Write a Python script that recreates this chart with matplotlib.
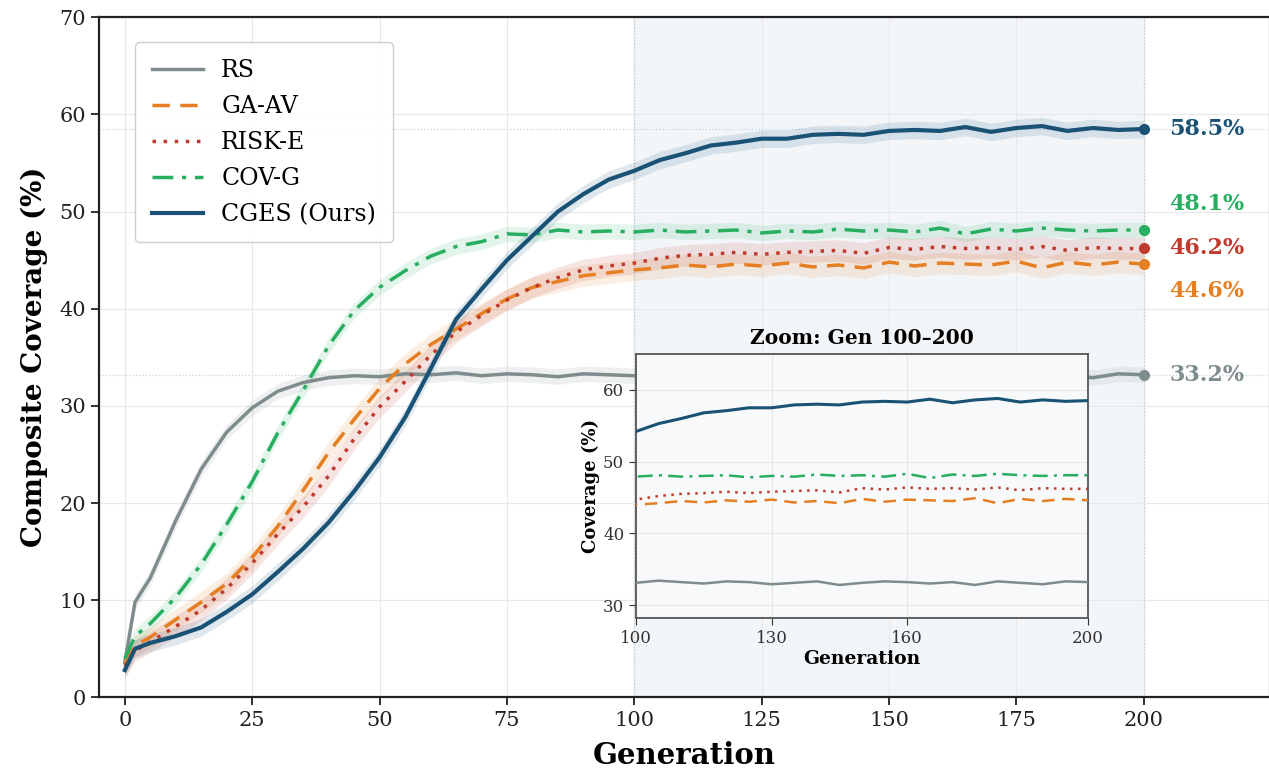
import numpy as np
import matplotlib
matplotlib.use("Agg")
import matplotlib.pyplot as plt

# Fuente serif para todo
plt.rcParams['font.family'] = ['DejaVu Serif']

# Datos (cobertura media por generacion)
generaciones = [0, 2, 5, 10, 15, 20, 25, 30, 35, 40, 45, 50, 55, 60, 65, 70, 75, 80, 85, 90, 95,
                100, 105, 110, 115, 120, 125, 130, 135, 140, 145, 150, 155, 160, 165, 170, 175,
                180, 185, 190, 195, 200]

metodos = ['RS', 'GA-AV', 'RISK-E', 'COV-G', 'CGES (Ours)']

rs = [3.6, 9.8, 12.3, 18.2, 23.5, 27.3, 29.8, 31.5, 32.4, 32.9, 33.1, 33.0, 33.3, 33.2, 33.4, 33.1,
      33.3, 33.2, 33.0, 33.3, 33.2, 33.1, 33.4, 33.2, 33.0, 33.3, 33.2, 32.9, 33.1, 33.3, 32.8,
      33.1, 33.3, 33.2, 33.0, 33.2, 32.8, 33.3, 33.1, 32.9, 33.3, 33.2]
ga_av = [3.5, 5.3, 6.2, 8.0, 9.8, 11.7, 14.4, 17.6, 21.3, 25.2, 28.6, 31.8, 34.3, 36.3, 37.9, 39.5,
         41.0, 42.2, 42.8, 43.4, 43.7, 44.0, 44.2, 44.5, 44.3, 44.6, 44.4, 44.7, 44.3, 44.5, 44.2,
         44.8, 44.4, 44.7, 44.6, 44.5, 44.9, 44.2, 44.8, 44.5, 44.8, 44.6]
risk_e = [3.2, 4.8, 5.7, 7.3, 9.0, 11.2, 13.8, 16.8, 19.6, 22.8, 26.6, 29.9, 32.5, 35.2, 37.6, 39.3,
          40.9, 42.2, 43.2, 44.0, 44.4, 44.7, 45.2, 45.5, 45.6, 45.8, 45.6, 45.8, 45.9, 46.0, 45.7,
          46.3, 46.1, 46.4, 46.2, 46.3, 46.1, 46.4, 46.0, 46.3, 46.2, 46.2]
cov_g = [4.0, 6.3, 7.6, 10.3, 13.7, 17.8, 22.2, 27.2, 31.6, 36.2, 39.8, 42.2, 43.9, 45.4, 46.4, 46.9,
         47.7, 47.6, 48.1, 47.9, 48.0, 47.9, 48.1, 47.9, 48.0, 48.1, 47.8, 48.0, 47.9, 48.2, 48.0,
         48.1, 47.9, 48.3, 47.7, 48.2, 48.0, 48.3, 48.1, 48.0, 48.1, 48.1]
cges = [2.8, 5.0, 5.6, 6.3, 7.2, 8.8, 10.6, 12.9, 15.3, 18.0, 21.2, 24.7, 28.8, 33.8, 38.9, 42.0,
        45.0, 47.5, 50.0, 51.8, 53.3, 54.2, 55.3, 56.0, 56.8, 57.1, 57.5, 57.5, 57.9, 58.0, 57.9,
        58.3, 58.4, 58.3, 58.7, 58.2, 58.6, 58.8, 58.3, 58.6, 58.4, 58.5]

# Desviacion estandar aproximada (ancho de la banda)
desviaciones = [0.8, 1.1, 1.1, 0.8, 0.9]

# Valor final que se muestra a la derecha
finales = [33.2, 44.6, 46.2, 48.1, 58.5]

colores = ['#7f8c8d', '#e67e22', '#c0392b', '#27ae60', '#1a5276']
estilos = ['-', (0, (5, 3)), (0, (1, 2.2)), (0, (6, 2.5, 1.2, 2.5)), '-']
grosores = [2.5, 2.5, 2.5, 2.5, 3.0]

series = [rs, ga_av, risk_e, cov_g, cges]
x = np.array(generaciones)

fig = plt.figure(figsize=(12.69, 7.78), dpi=100)
ax = fig.add_axes([0.0783, 0.1037, 0.9214, 0.8741])

# Zona resaltada 100-200
ax.axvspan(100, 200, color='#e9eef4', alpha=0.5, zorder=0)
ax.axvline(100, color='#c8ccd2', lw=0.9, ls=':', zorder=1)
ax.axvline(200, color='#c8ccd2', lw=0.9, ls=':', zorder=1)
ax.axhline(finales[4], color='#c5d3e0', lw=0.9, ls=':', zorder=1)
ax.axhline(finales[0], color='#c5d3e0', lw=0.9, ls=':', zorder=1)

for i in range(len(metodos)):
    y = np.array(series[i])
    ax.fill_between(x, y - desviaciones[i], y + desviaciones[i], color=colores[i], alpha=0.13, lw=0, zorder=2)
    ax.plot(x, y, color=colores[i], ls=estilos[i], lw=grosores[i], label=metodos[i], zorder=3)
    ax.plot([x[-1]], [y[-1]], 'o', color=colores[i], ms=7, zorder=4)

# Etiquetas finales separadas para que no se encimen
orden = sorted(range(len(finales)), key=lambda k: finales[k])
pos_etiqueta = [0.0] * len(finales)
grupo = [orden[0]]
grupos = []
for k in orden[1:]:
    if finales[k] - finales[grupo[-1]] < 4.5:
        grupo.append(k)
    else:
        grupos.append(grupo)
        grupo = [k]
grupos.append(grupo)
for g in grupos:
    centro = np.mean([finales[k] for k in g])
    for j, k in enumerate(g):
        pos_etiqueta[k] = centro + (j - (len(g) - 1) / 2) * 4.5

for i in range(len(metodos)):
    ax.text(205, pos_etiqueta[i], f'{finales[i]:.1f}%', color=colores[i], fontsize=16,
            fontweight='bold', va='center', ha='left')

ax.set_xlim(-5, 224.5)
ax.set_ylim(0, 70)
ax.set_xticks([0, 25, 50, 75, 100, 125, 150, 175, 200])
ax.set_yticks([0, 10, 20, 30, 40, 50, 60, 70])
ax.tick_params(labelsize=15, direction='out', length=6, width=1.3, colors='#222222')
ax.grid(True, color='#e8e8e8', lw=0.8, zorder=0)
ax.set_axisbelow(True)
for lado in ['left', 'bottom', 'top']:
    ax.spines[lado].set_linewidth(1.6)
    ax.spines[lado].set_color('#222222')
ax.spines['right'].set_linewidth(1.0)
ax.spines['right'].set_color('#bbbbbb')

ax.set_xlabel('Generation', fontsize=21, fontweight='bold', labelpad=8)
ax.set_ylabel('Composite Coverage (%)', fontsize=20, fontweight='bold', labelpad=8)

leyenda = ax.legend(loc='upper left', bbox_to_anchor=(0.0305, 0.963), borderaxespad=0, fontsize=17,
                    handlelength=2.2, labelspacing=0.55, borderpad=0.7, handletextpad=0.75,
                    frameon=True, fancybox=True, framealpha=0.95, edgecolor='#cccccc')

# Grafica pequena (zoom)
axz = fig.add_axes([0.5012, 0.2057, 0.3562, 0.3393])
axz.set_facecolor('#f8f9fa')
for i in range(len(metodos)):
    y = np.array(series[i])
    axz.plot(x, y, color=colores[i], ls=estilos[i], lw=2.2 if i == 4 else 1.8, zorder=3)
axz.set_xlim(100, 200)
axz.set_ylim(28.2, 65)
axz.set_xticks([100, 130, 160, 200])
axz.set_yticks([30, 40, 50, 60])
axz.tick_params(labelsize=12, direction='out', length=5, colors='#333333')
axz.grid(True, color='#e6e6e6', lw=0.7)
for lado in axz.spines:
    axz.spines[lado].set_color('#555555')
    axz.spines[lado].set_linewidth(1.3)
axz.set_title('Zoom: Gen 100\u2013200', fontsize=14.5, fontweight='bold', pad=7)
axz.set_xlabel('Generation', fontsize=13.5, fontweight='bold', labelpad=2)
axz.set_ylabel('Coverage (%)', fontsize=13, fontweight='bold', labelpad=2)

fig.savefig('out.png', dpi=100)
